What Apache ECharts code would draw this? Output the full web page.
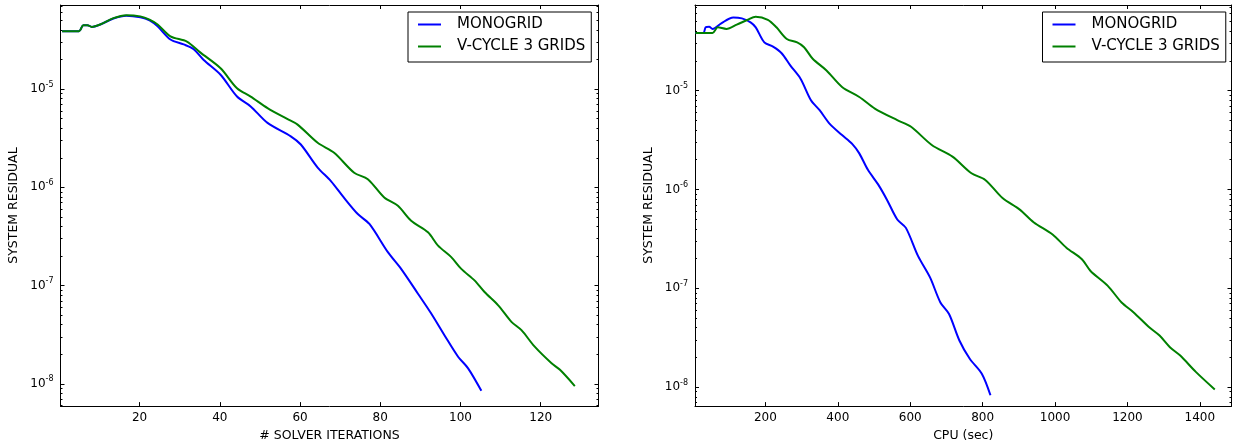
<!DOCTYPE html>
<html><head><meta charset="utf-8">
<script src="https://cdn.jsdelivr.net/npm/echarts@6/dist/echarts.min.js"></script>
<style>html,body{margin:0;padding:0;background:#fff}#c{width:1233px;height:447px}</style>
</head><body><div id="c"></div>
<script>
// ---------- data ----------
const seriesNames = ['MONOGRID', 'V-CYCLE 3 GRIDS'];

// Left panel: residual vs solver iterations
const monoIterX = [0.7, 4.9, 6.0, 7.0, 8.1, 10.2, 13.5, 16.7, 20.2, 22.5, 24.5, 27.7, 31.0, 33.5, 36.0, 40.2, 44.3, 47.7, 51.9, 57.7, 60.2, 64.4, 67.7, 70.9, 74.4, 77.3, 81.9, 85.2, 89.4, 92.7, 96.0, 99.4, 101.9, 105.2];
const monoIterY = [3.89e-5, 3.89e-5, 4.48e-5, 4.48e-5, 4.30e-5, 4.55e-5, 5.24e-5, 5.58e-5, 5.38e-5, 5.0e-5, 4.35e-5, 3.2e-5, 2.85e-5, 2.55e-5, 1.98e-5, 1.40e-5, 8.4e-6, 6.67e-6, 4.53e-6, 3.31e-6, 2.73e-6, 1.59e-6, 1.16e-6, 7.9e-7, 5.35e-7, 4.24e-7, 2.19e-7, 1.48e-7, 8.27e-8, 5.2e-8, 3.13e-8, 1.89e-8, 1.44e-8, 8.5e-9];
const vcycIterX = [0.7, 4.9, 6.0, 7.0, 8.1, 10.2, 13.5, 16.7, 20.2, 22.5, 24.5, 27.7, 31.8, 35.2, 40.2, 44.3, 47.7, 51.9, 56.8, 59.4, 64.4, 68.5, 73.5, 76.9, 81.0, 84.4, 87.7, 91.9, 94.4, 97.7, 100.2, 103.5, 106.0, 109.4, 112.7, 115.2, 118.5, 122.7, 124.8, 128.5];
const vcycIterY = [3.89e-5, 3.89e-5, 4.48e-5, 4.48e-5, 4.30e-5, 4.55e-5, 5.28e-5, 5.66e-5, 5.5e-5, 5.1e-5, 4.55e-5, 3.45e-5, 3.05e-5, 2.35e-5, 1.63e-5, 1.02e-5, 8.4e-6, 6.42e-6, 4.97e-6, 4.35e-6, 2.84e-6, 2.25e-6, 1.41e-6, 1.21e-6, 7.88e-7, 6.49e-7, 4.57e-7, 3.49e-7, 2.55e-7, 1.95e-7, 1.48e-7, 1.13e-7, 8.6e-8, 6.3e-8, 4.28e-8, 3.52e-8, 2.39e-8, 1.62e-8, 1.39e-8, 9.5e-9];

// Right panel: residual vs CPU time (sec)
const monoCpuX = [6.5, 28.4, 35, 44.6, 54, 78, 111.3, 135, 159, 173.3, 197, 221, 244.8, 268.6, 297, 325.8, 349.7, 378.3, 411.6, 440.2, 459.3, 483.1, 511.7, 535.6, 564.2, 588, 621.4, 654.7, 683.3, 707.2, 735.8, 764.4, 797.7, 821.6];
const monoCpuY = [3.83e-5, 3.83e-5, 4.37e-5, 4.43e-5, 4.21e-5, 4.8e-5, 5.5e-5, 5.38e-5, 4.91e-5, 4.37e-5, 3.08e-5, 2.79e-5, 2.39e-5, 1.8e-5, 1.32e-5, 8.0e-6, 6.34e-6, 4.58e-6, 3.55e-6, 2.88e-6, 2.32e-6, 1.58e-6, 1.12e-6, 7.89e-7, 4.97e-7, 4.09e-7, 2.13e-7, 1.29e-7, 7.2e-8, 5.5e-8, 2.97e-8, 1.94e-8, 1.37e-8, 8.3e-9];
const vcycCpuX = [6.5, 54, 68.4, 92.3, 120.9, 149.5, 173.3, 206.7, 230.5, 259.1, 287.7, 306.8, 330.6, 368.7, 411.6, 459.3, 502.2, 564.2, 602.3, 659.5, 716.7, 769.1, 807.3, 854.9, 902.6, 940.7, 993.2, 1031.3, 1074.2, 1098, 1145.7, 1183.8, 1217.2, 1260.1, 1288.7, 1317.3, 1345.9, 1388.8, 1441.2];
const vcycCpuY = [3.83e-5, 3.83e-5, 4.37e-5, 4.21e-5, 4.65e-5, 5.18e-5, 5.6e-5, 5.21e-5, 4.37e-5, 3.33e-5, 3.08e-5, 2.75e-5, 2.1e-5, 1.6e-5, 1.09e-5, 8.63e-6, 6.59e-6, 5.03e-6, 4.31e-6, 2.82e-6, 2.15e-6, 1.46e-6, 1.25e-6, 8.2e-7, 6.26e-7, 4.67e-7, 3.51e-7, 2.58e-7, 1.97e-7, 1.5e-7, 1.06e-7, 7.2e-8, 5.71e-8, 4.04e-8, 3.33e-8, 2.54e-8, 2.09e-8, 1.43e-8, 9.5e-9];

// tick labels
const iterTicks = [20, 40, 60, 80, 100, 120];
const cpuTicks = [200, 400, 600, 800, 1000, 1200, 1400];
const decadeTicks = [1e-8, 1e-7, 1e-6, 1e-5];
const minorMultipliers = [2, 3, 4, 5, 6, 7, 8, 9];
const decadesForMinor = [1e-9, 1e-8, 1e-7, 1e-6, 1e-5];

// ---------- build ----------
const FONT = 'DejaVu Sans';
const minorTicks = [];
decadesForMinor.forEach(d => minorMultipliers.forEach(m => minorTicks.push(+(m * d).toPrecision(3))));
const zip = (xs, ys) => xs.map((x, i) => [x, ys[i]]);
const colors = ['#0000ff', '#008000'];

function xAxes(gridIndex, min, max, ticks, name) {
  const common = {
    type: 'value', gridIndex, min, max,
    splitLine: { show: false },
    axisLine: { show: true, lineStyle: { color: '#000', width: 1 } },
  };
  return [
    Object.assign({}, common, {
      position: 'bottom',
      axisTick: { show: true, inside: true, length: 4, customValues: ticks, lineStyle: { color: '#000' } },
      axisLabel: { show: true, customValues: ticks, margin: 6, color: '#000', fontFamily: FONT, fontSize: 12,
        formatter: v => String(v) },
      name, nameLocation: 'middle', nameGap: 22,
      nameTextStyle: { color: '#000', fontFamily: FONT, fontSize: 12.5 }
    }),
    Object.assign({}, common, {
      position: 'top',
      axisTick: { show: true, inside: true, length: 4, customValues: ticks, lineStyle: { color: '#000' } },
      axisLabel: { show: false }
    })
  ];
}

function yAxes(gridIndex, min, max) {
  const common = {
    type: 'log', logBase: 10, gridIndex, min, max,
    splitLine: { show: false }, minorTick: { show: false }
  };
  const labelFmt = v => '{a|10}{b|' + Math.round(Math.log10(v)) + '}';
  const rich = {
    a: { fontFamily: FONT, fontSize: 12, color: '#000' },
    b: { fontFamily: FONT, fontSize: 8, color: '#000', padding: [0, 0, 9, 0] }
  };
  return [
    Object.assign({}, common, {
      position: 'left',
      axisLine: { show: true, lineStyle: { color: '#000', width: 1 } },
      axisTick: { show: true, inside: true, length: 4, customValues: decadeTicks, lineStyle: { color: '#000' } },
      axisLabel: { show: true, customValues: decadeTicks, formatter: labelFmt, rich, margin: 7 },
      name: 'SYSTEM RESIDUAL', nameLocation: 'middle', nameGap: 40,
      nameTextStyle: { color: '#000', fontFamily: FONT, fontSize: 12.5 }
    }),
    Object.assign({}, common, {
      position: 'left',
      axisLine: { show: false },
      axisTick: { show: true, inside: true, length: 2, customValues: minorTicks, lineStyle: { color: '#000' } },
      axisLabel: { show: false }
    }),
    Object.assign({}, common, {
      position: 'right',
      axisLine: { show: true, lineStyle: { color: '#000', width: 1 } },
      axisTick: { show: true, inside: true, length: 4, customValues: decadeTicks, lineStyle: { color: '#000' } },
      axisLabel: { show: false }
    }),
    Object.assign({}, common, {
      position: 'right',
      axisLine: { show: false },
      axisTick: { show: true, inside: true, length: 2, customValues: minorTicks, lineStyle: { color: '#000' } },
      axisLabel: { show: false }
    })
  ];
}

function lineSeries(name, data, color, xAxisIndex, yAxisIndex) {
  return {
    type: 'line', name, data, xAxisIndex, yAxisIndex,
    symbol: 'none', showSymbol: false, smooth: 0.3,
    lineStyle: { color, width: 2 }, itemStyle: { color },
    emphasis: { disabled: true }, animation: false
  };
}

// legend icon: a short horizontal bar centred in a 23x14 box
const LEGEND_LINE = 'path://M0,0L0,0M0,6L23,6L23,8L0,8ZM23,14L23,14';

function legend(left) {
  return {
    left, top: 12, orient: 'vertical', data: seriesNames,
    icon: LEGEND_LINE,
    itemWidth: 23, itemHeight: 14, itemGap: 7,
    padding: [5, 6, 8, 10],
    borderColor: '#000', borderWidth: 1, borderRadius: 0, backgroundColor: '#fff',
    formatter: n => '{t|' + n + '}',
    textStyle: { color: '#000', fontFamily: FONT, fontSize: 15,
      rich: { t: { fontFamily: FONT, fontSize: 15, lineHeight: 14, color: '#000', padding: [0, 0, 0, 11] } } }
  };
}

const chart = echarts.init(document.getElementById('c'), null, { renderer: 'canvas' });
chart.setOption({
  backgroundColor: '#fff',
  animation: false,
  grid: [
    { left: 60.5, right: 634.5, top: 5, bottom: 39 },
    { left: 695, right: 1.5, top: 5, bottom: 39 }
  ],
  xAxis: [].concat(
    xAxes(0, 0.3, 134.4, iterTicks, '# SOLVER ITERATIONS'),
    xAxes(1, 5.5, 1487.4, cpuTicks, 'CPU (sec)')
  ),
  yAxis: [].concat(
    yAxes(0, 5.94e-9, 7.18e-5),
    yAxes(1, 6.44e-9, 7.35e-5)
  ),
  legend: [legend(408), legend(1042.5)],
  series: [
    lineSeries(seriesNames[0], zip(monoIterX, monoIterY), colors[0], 0, 0),
    lineSeries(seriesNames[1], zip(vcycIterX, vcycIterY), colors[1], 0, 0),
    lineSeries(seriesNames[0], zip(monoCpuX, monoCpuY), colors[0], 2, 4),
    lineSeries(seriesNames[1], zip(vcycCpuX, vcycCpuY), colors[1], 2, 4)
  ]
});
</script>
</body></html>
